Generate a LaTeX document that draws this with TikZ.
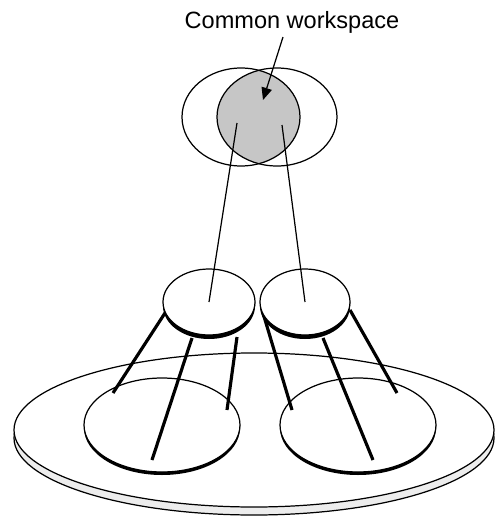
\documentclass[tikz,border=0pt]{standalone}
\usepackage{fontspec}
\setmainfont{Liberation Sans}
\usetikzlibrary{arrows.meta}
\definecolor{workspaceGray}{HTML}{C6C6C6}
\definecolor{plateGray}{HTML}{EDEDED}

\begin{document}
\begin{tikzpicture}[x=0.02cm, y=-0.02cm, line join=round,
  thinline/.style={line width=0.7pt},
  leg/.style={line width=1.8pt}]
\useasboundingbox (0,0) rectangle (495,518);
\fill[plateGray, draw=black, thinline] (254,438) ellipse (240 and 77);
\fill[white, draw=black, thinline] (254,430) ellipse (240 and 77);
\foreach \cx in {162,358}
{
  \draw[thinline, fill=white] (\cx,425) ellipse (78 and 47);
  \fill (\cx,425) ++(78,0) arc[start angle=0, end angle=180, x radius=78, y radius=47]
    -- ++(0,3) arc[start angle=180, end angle=0, x radius=78, y radius=47] -- cycle;
}
\foreach \xa/\ya/\xb/\yb in {
  165/313/113/393, 192/338/152/460, 237/337/227/410,
  263/313/292/410, 323/338/373/460, 350/310/397/393}
{
  \draw[leg] (\xa,\ya) -- (\xb,\yb);
}
\foreach \cx/\rx/\usr in {209/46/userL, 305/45/userR}
{
  \draw[thinline, fill=white] (\cx,302) ellipse [x radius=\rx, y radius=33];
  \fill (\cx,302) ++(\rx,0) arc[start angle=0, end angle=180, x radius=\rx, y radius=33]
    -- ++(0,4) arc[start angle=180, end angle=0, x radius=\rx, y radius=33] -- cycle;
  \coordinate (\usr) at (\cx,302);
}
\begin{scope}
  \clip (241,117) ellipse (59 and 49);
  \fill[workspaceGray] (277,117) ellipse (60 and 49);
\end{scope}
\draw[thinline] (241,117) ellipse (59 and 49);
\draw[thinline] (277,117) ellipse (60 and 49);
\coordinate (wsL) at (237,123);
\coordinate (wsR) at (282,125);
\draw[thinline] (wsL) -- (userL);
\draw[thinline] (wsR) -- (userR);
\node[font=\fontsize{13.4}{16}\selectfont, inner sep=0pt] (ws) at (292,22) {Common workspace};
\coordinate (tip) at (263,100);
\draw[thinline, -{Triangle[length=7pt, width=6pt]}] (283,37) -- (tip);
\end{tikzpicture}
\end{document}
